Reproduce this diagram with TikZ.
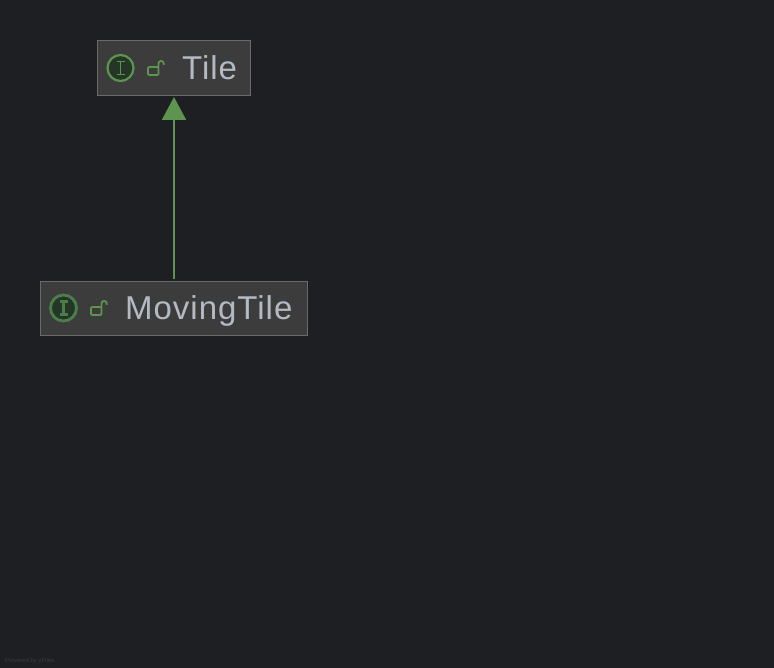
\documentclass[tikz,border=0pt]{standalone}
\usepackage{fontspec}
\setmainfont{Liberation Sans}
\newfontfamily\namefont[LetterSpace=3]{Liberation Sans}
\usetikzlibrary{arrows.meta}
\definecolor{bgc}{HTML}{1E1F22}
\definecolor{boxfill}{HTML}{3C3C3C}
\definecolor{boxline}{HTML}{6A6A6A}
\definecolor{grn}{HTML}{5C9450}
\definecolor{grnsoft}{HTML}{4A7F4C}
\definecolor{icofill}{HTML}{253627}
\definecolor{txt}{HTML}{B4BAC4}
\definecolor{faint}{HTML}{3A3B3E}
\tikzset{
  x=1pt,y=-1pt,
  classbox/.style={draw=boxline,fill=boxfill,line width=1pt,inner sep=0pt,outer sep=0pt,anchor=north west},
  classname/.style={text=txt,inner sep=0pt,anchor=base west,font=\namefont\fontsize{33}{33}\selectfont},
  icon/.style={draw=grn,fill=icofill,line width=2.2pt,circle,inner sep=0pt,outer sep=0pt,minimum size=26pt},
  softicon/.style={icon,draw=grnsoft,line width=2.8pt},
  lockbody/.style={draw=grn,line width=1.8pt,rounded corners=1.2pt},
  lockbar/.style={draw=grn,line width=1.8pt},
  inherit/.style={draw=grn,line width=2pt,-{Triangle[length=23pt,width=24pt,fill=grn]}},
}
\newcommand{\iglyph}[3]{%
  \draw[#2,line width=#3] ([xshift=-4pt,yshift=-6.5pt]#1.center) -- ([xshift=4pt,yshift=-6.5pt]#1.center)
    ([yshift=-6.5pt]#1.center) -- ([yshift=6.5pt]#1.center)
    ([xshift=-4pt,yshift=6.5pt]#1.center) -- ([xshift=4pt,yshift=6.5pt]#1.center);}
\newcommand{\lockglyph}[2]{%
  \draw[lockbody] (#1,#2) rectangle ++(10.5,8);
  \draw[lockbar] (#1+10.5,#2) -- ++(0,-3.5) arc[start angle=180,end angle=360,radius=2.6] -- ++(0,1.5);}
\begin{document}
\begin{tikzpicture}
\useasboundingbox (0,0) rectangle (774,668);
\fill[bgc] (0,0) rectangle (774,668);
\node[classbox,minimum width=153pt,minimum height=55pt] (tile) at (97.5,40.5) {};
\node[classbox,minimum width=267pt,minimum height=54pt] (moving) at (40.5,281.5) {};
\node[icon] (itile) at (120.5,68) {};
\iglyph{itile}{grn}{1.8pt}
\lockglyph{148}{67}
\node[classname] (ttile) at (182,80) {Tile};
\node[softicon] (imoving) at (63.5,308) {};
\iglyph{imoving}{grnsoft}{2.6pt}
\lockglyph{91}{307}
\node[classname] (tmoving) at (125,320) {MovingTile};
\draw[inherit] ([yshift=2.5pt]moving.north) -- ([yshift=-1.5pt]tile.south);
\node[text=faint,inner sep=0pt,anchor=base west,font=\fontsize{6}{6}\selectfont] (powered) at (5,662) {Powered by yFiles};
\end{tikzpicture}
\end{document}
